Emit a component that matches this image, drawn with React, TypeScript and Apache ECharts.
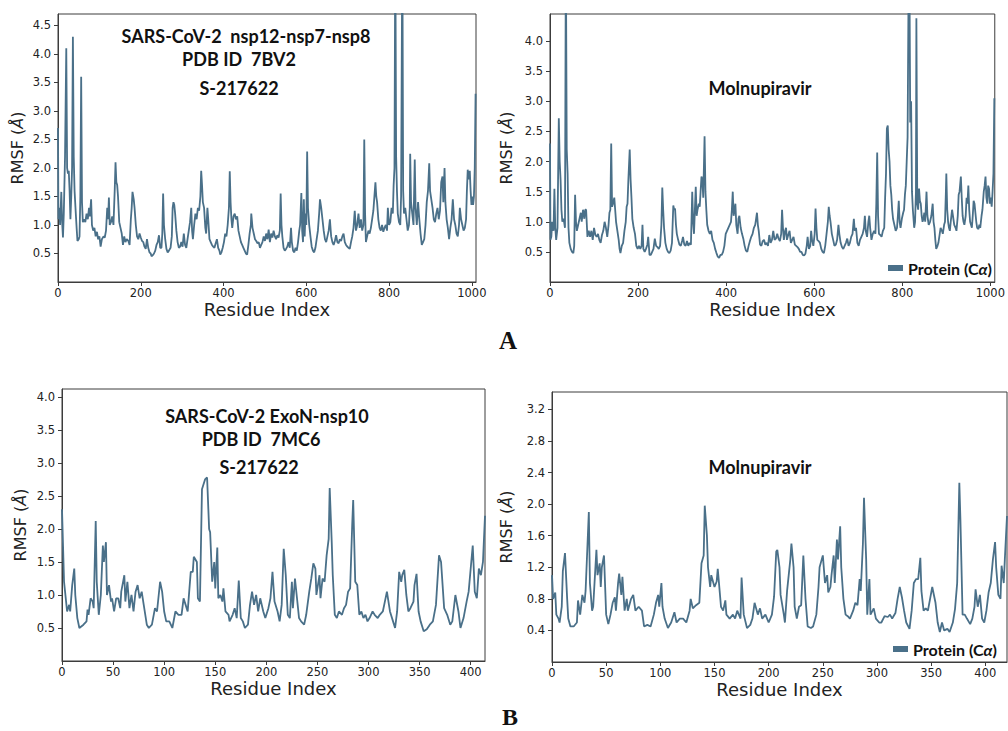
import React, { useEffect, useRef } from 'react';
import * as echarts from 'echarts';

// Panel A-left: SARS-CoV-2 nsp12-nsp7-nsp8 (7BV2) with S-217622  [residue, RMSF]
const rmsf7BV2S217622: number[][] = [
  [0,2.7],[1,1.1],[3,1.3],[5,1.0],[8,1.58],[10,1.05],[12,0.78],[14,1.2],[17,2.2],[20,4.1],[22,2.0],[24,1.9],[26,1.95],[28,1.6],[30,1.1],[32,1.5],[34,2.0],[36,4.3],[38,2.2],[40,1.6],[43,1.2],[45,0.95],[47,0.72],[50,0.75],[52,0.8],[54,1.5],[56,3.6],[58,1.4],[60,1.05],[63,1.1],[66,1.05],[69,1.2],[72,1.1],[75,1.3],[77,1.15],[80,1.45],[82,1.0],[85,0.9],[88,0.95],[91,0.8],[94,0.88],[97,0.75],[100,0.8],[103,0.62],[106,0.75],[110,0.8],[113,0.78],[116,0.9],[119,1.3],[121,1.1],[123,1.48],[125,1.0],[128,1.05],[131,1.15],[134,1.0],[137,1.6],[139,2.1],[141,1.75],[143,1.7],[145,1.5],[148,1.05],[151,0.95],[154,0.85],[157,0.65],[160,0.8],[163,0.7],[166,0.75],[170,0.72],[173,0.65],[176,1.1],[178,1.3],[180,1.58],[183,1.45],[185,1.3],[188,1.0],[191,0.8],[194,0.75],[197,0.85],[200,0.78],[203,0.72],[206,0.7],[209,0.62],[212,0.58],[215,0.75],[218,0.6],[221,0.52],[224,0.5],[226,0.45],[229,0.47],[232,0.5],[235,0.55],[238,0.65],[241,0.7],[244,0.82],[247,0.6],[250,0.6],[252,0.85],[254,1.55],[256,1.0],[259,0.75],[262,0.58],[265,0.52],[268,0.55],[272,0.6],[275,0.8],[277,1.3],[279,1.4],[281,1.35],[283,1.2],[286,0.9],[289,0.7],[292,0.6],[295,0.62],[298,0.7],[301,0.62],[304,0.85],[307,0.65],[310,0.6],[313,0.75],[316,0.9],[319,1.05],[322,1.3],[324,0.9],[326,0.75],[329,1.0],[332,1.2],[335,1.1],[338,1.3],[341,1.25],[344,1.5],[346,1.95],[348,1.7],[350,1.4],[353,1.3],[356,0.95],[358,0.85],[361,1.3],[363,1.1],[366,0.75],[369,0.7],[372,0.65],[375,0.62],[378,0.6],[381,0.68],[384,0.75],[387,0.6],[390,0.55],[392,0.48],[395,0.52],[398,0.6],[401,0.7],[404,0.85],[407,0.8],[410,1.0],[413,1.3],[415,1.94],[417,1.4],[419,1.1],[421,0.95],[424,1.15],[427,1.2],[430,1.1],[433,1.15],[436,0.9],[439,0.8],[442,0.7],[445,0.65],[448,0.6],[451,0.55],[454,0.5],[457,0.48],[460,0.65],[463,0.85],[466,1.0],[467,1.2],[470,0.95],[473,0.85],[476,0.75],[479,0.72],[482,0.68],[485,0.7],[488,0.6],[491,0.65],[494,0.7],[497,0.8],[500,0.72],[503,0.85],[506,0.75],[509,0.92],[512,0.7],[515,0.85],[518,0.78],[521,0.9],[524,0.8],[527,0.75],[530,0.82],[533,0.78],[536,0.9],[538,1.55],[540,1.0],[542,0.8],[545,0.6],[548,0.55],[551,0.58],[554,0.62],[557,0.7],[560,0.6],[563,0.95],[565,0.7],[568,0.55],[571,0.52],[574,0.6],[577,0.55],[580,0.7],[583,0.9],[585,1.0],[588,1.56],[590,0.9],[592,0.7],[594,1.45],[596,0.8],[598,1.2],[600,1.0],[602,2.29],[604,1.3],[607,1.0],[610,0.8],[613,0.62],[616,0.55],[619,0.52],[622,0.6],[625,0.75],[628,0.9],[631,1.2],[633,1.45],[636,1.3],[639,1.1],[642,0.9],[645,0.75],[648,0.7],[651,0.8],[654,0.9],[657,1.1],[660,0.8],[663,0.7],[666,0.65],[669,0.72],[672,0.82],[675,0.7],[678,0.68],[681,0.75],[684,0.72],[687,0.8],[690,0.85],[693,0.7],[696,0.65],[699,0.62],[702,0.6],[705,0.58],[708,0.7],[711,0.8],[714,0.95],[717,1.25],[720,0.9],[723,1.0],[726,1.2],[729,0.95],[732,1.1],[735,0.9],[738,1.0],[740,2.5],[742,1.2],[744,0.7],[747,0.8],[750,0.9],[753,0.85],[756,0.95],[759,1.1],[762,1.25],[765,1.55],[767,1.75],[769,1.5],[771,1.4],[774,1.1],[777,0.95],[780,0.9],[783,1.0],[786,0.88],[789,0.95],[792,1.0],[795,0.9],[797,1.3],[800,1.0],[803,1.05],[806,1.3],[809,1.2],[811,1.7],[813,2.0],[815,6.0],[817,2.2],[819,1.6],[821,1.2],[824,1.05],[827,1.0],[829,1.5],[832,6.0],[834,1.6],[836,1.2],[839,1.3],[842,1.1],[845,0.9],[848,1.0],[850,1.3],[851,2.25],[853,1.4],[856,1.2],[859,1.0],[862,2.15],[864,1.3],[867,1.0],[870,1.4],[873,1.1],[876,0.85],[879,0.65],[882,0.7],[885,0.75],[888,1.0],[891,1.4],[894,1.6],[897,2.08],[899,1.6],[902,1.45],[905,1.3],[908,1.1],[911,1.05],[914,1.2],[917,1.3],[920,1.1],[923,1.25],[926,1.75],[929,1.85],[931,1.4],[934,2.0],[936,1.4],[939,1.1],[942,0.95],[945,0.75],[948,0.95],[951,1.1],[954,1.45],[957,1.1],[960,1.0],[963,0.85],[966,0.8],[969,1.0],[971,1.3],[974,1.1],[977,1.0],[980,0.9],[983,0.95],[986,1.1],[988,1.6],[990,1.97],[992,1.8],[995,1.95],[997,1.6],[999,1.35],[1001,1.5],[1003,1.35],[1005,1.5],[1007,2.0],[1009,3.3]
];

// Panel A-right: 7BV2 with Molnupiravir
const rmsf7BV2Molnupiravir: number[][] = [
  [0,2.3],[1,0.7],[3,0.75],[5,1.0],[8,0.85],[10,1.55],[12,0.9],[14,0.7],[17,0.9],[20,2.72],[22,2.0],[24,1.7],[26,1.2],[28,1.0],[30,1.05],[32,1.0],[34,0.9],[36,5.5],[38,2.2],[40,1.8],[42,0.9],[44,0.65],[47,0.55],[50,0.5],[53,0.48],[55,0.6],[57,1.45],[59,1.0],[61,0.85],[64,0.95],[67,1.05],[70,1.15],[72,1.0],[75,1.2],[78,1.05],[80,1.2],[82,1.2],[85,0.75],[88,0.85],[91,0.75],[94,0.85],[97,0.7],[100,0.9],[103,0.78],[106,0.75],[109,0.8],[112,0.7],[115,0.65],[118,0.78],[121,0.85],[124,1.0],[127,0.9],[130,0.75],[133,0.95],[135,1.15],[137,1.2],[139,2.3],[141,1.25],[143,1.3],[146,1.4],[148,1.2],[150,1.0],[153,0.85],[156,0.7],[158,0.55],[160,0.48],[163,0.6],[166,0.65],[169,0.85],[172,1.0],[174,1.25],[176,1.3],[178,1.7],[181,2.2],[183,1.7],[185,1.4],[187,1.05],[190,0.9],[193,0.8],[196,0.6],[199,0.55],[202,0.6],[205,0.55],[208,0.6],[210,0.95],[212,0.55],[215,0.5],[218,0.55],[221,0.62],[223,0.75],[226,0.45],[229,0.45],[232,0.5],[235,0.55],[238,0.72],[241,0.6],[244,0.58],[247,0.55],[250,0.6],[253,0.95],[255,1.57],[257,1.2],[259,0.9],[262,0.65],[265,0.55],[268,0.5],[271,0.48],[274,0.52],[277,0.65],[280,1.27],[282,1.2],[284,1.22],[286,0.95],[288,0.8],[291,0.7],[294,0.62],[297,0.6],[300,0.68],[302,0.75],[305,0.62],[308,0.6],[311,0.68],[314,0.6],[317,0.65],[320,0.62],[323,1.5],[325,1.0],[327,0.8],[329,1.2],[331,1.58],[333,1.1],[335,1.2],[338,1.3],[340,1.25],[342,1.5],[344,1.75],[346,1.7],[348,1.4],[351,2.42],[353,1.5],[355,1.2],[357,0.95],[360,0.85],[363,0.8],[366,0.85],[369,0.7],[372,0.65],[375,0.55],[378,0.48],[381,0.42],[384,0.4],[387,0.45],[390,0.45],[393,0.5],[396,0.6],[399,0.8],[402,0.85],[405,0.9],[408,0.95],[411,1.0],[413,1.2],[415,1.5],[417,1.1],[419,1.2],[421,1.3],[423,0.95],[426,0.8],[428,1.05],[430,1.1],[433,0.9],[436,0.8],[439,0.72],[442,0.6],[445,0.52],[448,0.5],[451,0.6],[454,0.68],[457,0.75],[460,0.8],[463,0.9],[466,0.95],[468,1.05],[470,1.15],[472,0.95],[474,0.85],[477,0.62],[480,0.6],[483,0.68],[486,0.7],[489,0.62],[492,0.65],[495,0.6],[498,0.78],[501,0.65],[504,0.7],[507,0.85],[510,0.7],[513,0.72],[516,0.8],[519,0.72],[522,0.68],[525,0.8],[527,1.2],[529,0.9],[531,0.7],[534,0.85],[536,0.9],[538,0.7],[541,0.78],[544,0.85],[547,0.65],[550,0.7],[553,0.75],[556,0.62],[559,0.6],[562,0.58],[565,0.55],[568,0.5],[571,0.5],[574,0.45],[577,0.44],[580,0.47],[583,0.6],[585,0.75],[588,0.55],[591,0.6],[593,0.85],[595,0.7],[598,0.6],[601,0.8],[603,1.22],[605,0.9],[607,0.7],[610,0.68],[613,0.65],[616,0.55],[619,0.5],[622,0.48],[625,0.6],[628,0.8],[631,1.0],[633,1.25],[635,1.1],[637,1.0],[640,0.8],[643,0.7],[646,0.6],[649,0.62],[652,0.7],[655,0.95],[657,0.8],[660,0.65],[663,0.58],[666,0.55],[669,0.6],[672,0.65],[675,0.72],[678,0.6],[681,0.65],[684,0.75],[687,0.8],[690,1.05],[692,0.85],[695,0.9],[698,0.65],[701,0.6],[704,0.7],[707,0.75],[710,0.8],[713,0.9],[715,1.1],[717,0.85],[720,0.75],[723,1.0],[725,1.1],[727,0.9],[730,0.7],[733,0.8],[736,0.85],[739,0.8],[741,1.3],[743,2.15],[745,1.1],[747,0.8],[750,0.78],[753,0.75],[756,0.85],[759,0.9],[761,1.4],[763,1.8],[765,2.55],[767,2.6],[769,2.2],[771,2.0],[773,1.6],[775,1.45],[777,1.2],[779,1.05],[782,0.95],[785,0.85],[788,0.9],[790,1.1],[792,1.35],[794,1.0],[796,0.9],[799,1.05],[802,1.15],[804,1.2],[806,1.45],[808,1.6],[810,2.0],[812,2.4],[814,4.6],[816,5.5],[818,2.65],[820,3.0],[822,1.5],[824,1.2],[827,0.9],[829,1.0],[831,1.5],[832,4.38],[834,1.3],[836,1.2],[838,1.55],[840,1.35],[842,1.3],[844,1.1],[846,1.0],[848,1.05],[850,1.15],[852,1.0],[855,1.5],[857,1.1],[860,0.95],[863,1.0],[866,1.1],[869,1.3],[871,1.0],[873,0.9],[875,0.7],[877,0.55],[880,0.6],[882,0.65],[885,0.8],[887,0.9],[890,0.85],[892,0.8],[895,0.95],[897,1.0],[899,1.5],[900,1.8],[902,1.2],[904,1.0],[906,0.9],[908,0.85],[910,1.0],[913,1.2],[915,1.1],[918,0.95],[921,0.9],[923,0.85],[926,1.1],[928,1.45],[930,1.5],[933,1.75],[935,1.4],[937,1.1],[939,1.0],[941,0.95],[944,1.1],[946,1.4],[948,1.3],[950,1.6],[952,1.2],[954,1.0],[956,0.95],[958,0.9],[960,1.1],[962,1.35],[964,1.3],[966,1.15],[968,1.0],[970,0.9],[973,0.88],[975,0.95],[977,0.9],[980,1.1],[982,1.2],[985,1.5],[987,1.6],[989,1.75],[991,1.4],[993,1.3],[995,1.6],[997,1.55],[999,1.3],[1001,1.4],[1003,1.25],[1005,1.5],[1007,1.8],[1009,3.05]
];

// Panel B-left: SARS-CoV-2 ExoN-nsp10 (7MC6) with S-217622
const rmsf7MC6S217622: number[][] = [
  [0,2.3],[2,1.2],[3,1.05],[5,0.75],[7,0.85],[8,0.75],[10,1.15],[12,1.4],[13,1.0],[15,0.65],[17,0.5],[21,0.55],[24,0.6],[25,0.78],[26,0.7],[28,0.95],[30,0.9],[31,0.8],[33,2.12],[34,1.2],[36,0.7],[38,1.0],[40,1.75],[41,1.5],[43,1.8],[44,1.0],[46,1.15],[48,0.9],[49,0.95],[51,0.75],[53,0.95],[55,0.95],[57,0.8],[58,1.05],[61,1.3],[62,0.9],[64,1.2],[66,0.8],[68,1.0],[70,0.75],[72,1.05],[74,1.15],[76,0.95],[78,1.05],[80,0.85],[83,0.55],[85,0.5],[88,0.55],[91,0.8],[93,0.75],[96,1.2],[98,1.05],[100,0.75],[102,0.6],[105,0.6],[108,0.5],[111,0.75],[114,0.7],[117,0.7],[119,0.95],[121,0.85],[123,0.75],[126,1.35],[128,1.35],[129,1.58],[132,1.5],[133,0.95],[135,0.9],[137,2.6],[140,2.75],[142,2.78],[144,2.0],[145,1.95],[147,1.2],[149,1.5],[150,1.1],[152,1.72],[153,0.95],[155,1.0],[157,0.9],[158,1.1],[160,0.75],[163,0.7],[164,0.6],[167,0.7],[169,0.8],[171,0.65],[173,1.22],[175,0.65],[177,0.6],[179,0.5],[182,0.55],[184,0.85],[186,1.05],[188,0.85],[190,1.0],[192,0.75],[194,0.95],[197,0.75],[199,0.65],[202,0.8],[204,0.95],[206,1.35],[208,0.9],[211,0.75],[213,0.6],[215,0.85],[217,1.7],[219,1.3],[221,0.7],[223,0.65],[225,1.2],[226,0.8],[228,1.25],[230,0.95],[232,0.65],[234,0.6],[237,0.55],[239,0.7],[242,1.05],[244,1.25],[246,1.48],[248,1.4],[249,1.0],[252,1.3],[253,0.95],[255,1.25],[257,1.2],[259,1.6],[261,1.85],[262,2.62],[264,1.8],[265,1.3],[267,0.7],[269,0.65],[271,0.75],[274,0.7],[276,0.8],[278,0.85],[280,1.05],[282,1.1],[284,2.05],[285,2.44],[287,1.2],[289,1.15],[291,0.7],[293,0.75],[295,0.65],[297,0.7],[299,0.6],[301,0.65],[304,0.75],[306,0.7],[309,0.65],[311,0.7],[314,0.75],[316,0.9],[318,1.05],[321,0.75],[324,0.6],[326,0.5],[328,0.75],[330,1.35],[332,1.2],[333,1.3],[335,1.38],[337,1.0],[339,0.75],[341,0.8],[344,0.9],[345,1.15],[347,1.32],[349,0.75],[351,0.6],[354,0.45],[357,0.48],[360,0.55],[363,0.6],[366,0.85],[369,1.6],[371,1.5],[374,0.8],[377,0.7],[380,0.55],[382,0.6],[385,1.0],[388,0.75],[390,0.5],[393,0.65],[396,0.9],[398,1.05],[402,1.75],[404,1.05],[406,0.95],[408,1.4],[410,1.3],[412,1.5],[414,2.2]
];

// Panel B-right: 7MC6 with Molnupiravir
const rmsf7MC6Molnupiravir: number[][] = [
  [0,1.1],[1,0.8],[3,0.88],[4,0.6],[6,0.55],[7,0.5],[9,0.7],[10,1.15],[12,1.38],[14,0.8],[15,0.55],[17,0.45],[20,0.45],[23,0.5],[24,0.78],[26,0.6],[28,0.85],[30,0.75],[31,0.9],[34,1.9],[35,1.0],[37,0.65],[38,0.7],[41,1.42],[42,1.1],[44,1.25],[45,0.95],[46,1.2],[48,1.35],[50,0.6],[52,0.48],[54,0.6],[56,0.75],[58,0.82],[59,0.65],[61,1.0],[62,1.12],[64,0.85],[65,1.08],[67,0.65],[69,0.8],[70,0.65],[73,0.8],[75,0.85],[77,0.65],[80,0.7],[83,0.65],[85,0.45],[88,0.47],[91,0.45],[94,0.6],[96,0.75],[98,0.85],[99,0.7],[101,1.0],[102,0.7],[104,0.55],[107,0.43],[110,0.5],[113,0.63],[115,0.5],[118,0.55],[121,0.55],[124,0.5],[127,0.65],[128,0.8],[130,0.68],[133,0.72],[136,0.75],[138,1.25],[140,1.35],[141,1.98],[143,1.6],[144,1.2],[146,0.95],[147,1.1],[150,0.95],[152,1.02],[153,1.18],[156,0.7],[158,0.65],[160,0.78],[161,0.6],[164,0.55],[167,0.6],[169,0.55],[171,0.65],[174,0.55],[175,1.07],[177,0.6],[180,0.43],[183,0.47],[185,0.55],[187,0.75],[190,0.6],[192,0.68],[194,0.55],[197,0.6],[200,0.5],[203,0.6],[205,0.83],[207,1.4],[208,1.42],[210,1.2],[211,0.85],[214,0.6],[215,0.5],[217,0.9],[220,1.3],[221,1.5],[223,1.2],[224,0.7],[226,0.55],[228,0.7],[230,0.72],[232,1.35],[234,0.8],[236,0.45],[239,0.43],[241,0.45],[244,0.6],[246,0.95],[247,1.2],[249,1.3],[250,1.35],[252,1.0],[254,1.1],[255,0.88],[257,0.95],[258,1.1],[260,1.35],[261,1.0],[263,1.55],[264,1.3],[266,1.72],[267,1.2],[269,0.8],[271,0.6],[273,0.58],[275,0.55],[278,0.65],[280,0.75],[282,0.72],[284,1.05],[285,0.9],[287,1.5],[288,2.08],[290,1.3],[291,0.6],[293,1.05],[294,0.6],[297,0.68],[299,0.55],[302,0.5],[304,0.5],[307,0.58],[310,0.57],[312,0.6],[314,0.55],[317,0.62],[319,0.8],[321,0.95],[323,0.82],[325,0.65],[327,0.5],[330,0.42],[332,0.65],[334,1.0],[336,1.05],[338,1.05],[340,1.32],[341,0.9],[343,0.65],[345,0.68],[347,0.65],[349,0.8],[351,0.95],[354,0.75],[356,0.5],[358,0.38],[360,0.5],[362,0.4],[365,0.42],[367,0.38],[370,0.5],[372,0.67],[374,1.0],[376,2.27],[377,1.8],[379,0.6],[381,0.6],[383,0.55],[386,0.48],[388,0.55],[390,0.7],[391,0.92],[393,0.7],[395,0.85],[397,0.55],[399,0.5],[401,0.65],[403,0.88],[405,1.0],[407,1.3],[409,1.52],[410,1.2],[412,0.85],[414,0.8],[415,1.22],[417,1.0],[418,1.3],[420,1.85]
];

const xTicksA = [0, 200, 400, 600, 800, 1000];
const xTicksB = [0, 50, 100, 150, 200, 250, 300, 350, 400];
const yTicksAL = [0.5, 1.0, 1.5, 2.0, 2.5, 3.0, 3.5, 4.0, 4.5];
const yTicksAR = [0.5, 1.0, 1.5, 2.0, 2.5, 3.0, 3.5, 4.0];
const yTicksBL = [0.5, 1.0, 1.5, 2.0, 2.5, 3.0, 3.5, 4.0];
const yTicksBR = [0.4, 0.8, 1.2, 1.6, 2.0, 2.4, 2.8, 3.2];

const LINE = '#4a7089';
const AXIS = '#3c3c3c';
const LEGEND_NAME = 'Protein (Cα)';

function xAxis(gridIndex: number, max: number, ticks: number[]) {
  return {
    type: 'value', gridIndex, min: 0, max,
    name: 'Residue Index', nameLocation: 'middle', nameGap: 18,
    nameTextStyle: { fontFamily: 'DejaVu Sans', fontSize: 18, color: '#222' },
    axisLine: { show: true, lineStyle: { color: AXIS, width: 1 } },
    axisTick: { show: true, length: 4, lineStyle: { color: AXIS }, customValues: ticks },
    axisLabel: { fontFamily: 'DejaVu Sans', fontSize: 11.5, color: '#222', margin: 5, customValues: ticks, formatter: (v: number) => String(v) },
    splitLine: { show: false },
  };
}

function yAxis(gridIndex: number, max: number, ticks: number[], gap: number) {
  return {
    type: 'value', gridIndex, min: 0, max,
    name: '{a|RMSF (}{b|Å}{a|)}', nameLocation: 'middle', nameGap: gap, nameRotate: 90,
    nameTextStyle: {
      fontFamily: 'DejaVu Sans', fontSize: 16, color: '#222',
      rich: {
        a: { fontFamily: 'DejaVu Sans', fontSize: 16, color: '#222' },
        b: { fontFamily: 'DejaVu Sans', fontSize: 16, color: '#222', fontStyle: 'italic' },
      },
    },
    axisLine: { show: true, lineStyle: { color: AXIS, width: 1 } },
    axisTick: { show: true, length: 4, lineStyle: { color: AXIS }, customValues: ticks },
    axisLabel: { fontFamily: 'DejaVu Sans', fontSize: 11.5, color: '#222', margin: 7, customValues: ticks, formatter: (v: number) => v.toFixed(1) },
    splitLine: { show: false },
  };
}

function lineSeries(name: string, idx: number, data: number[][]) {
  return {
    name, type: 'line', xAxisIndex: idx, yAxisIndex: idx, data,
    showSymbol: false, symbol: 'none', clip: true,
    lineStyle: { color: LINE, width: 1.8 },
    itemStyle: { color: LINE },
  };
}

function titleText(x: number, y: number, text: string, size = 18) {
  return {
    type: 'text', x, y, silent: true,
    style: { text, fill: '#111', font: `bold ${size}px Lato`, textAlign: 'center', textVerticalAlign: 'middle' },
  };
}

function legendAt(left: number, top: number) {
  return {
    show: true, left, top, padding: 0, icon: 'rect', itemWidth: 15, itemHeight: 6,
    data: [LEGEND_NAME], selectedMode: false,
    formatter: () => '{b|Protein (C}{i|α}{b|)}',
    textStyle: {
      lineHeight: 18,
      rich: {
        b: { fontFamily: 'Lato', fontWeight: 'bold', fontSize: 16, color: '#111' },
        i: { fontFamily: 'Lato', fontWeight: 'bold', fontStyle: 'italic', fontSize: 16, color: '#111' },
      },
    },
  };
}

export default function App() {
  const ref = useRef<HTMLDivElement>(null);
  useEffect(() => {
    if (!ref.current) return;
    const chart = echarts.init(ref.current, undefined, { renderer: 'svg' });
    const gridBase = { show: true, borderColor: AXIS, borderWidth: 1, backgroundColor: 'transparent', containLabel: false };
    chart.setOption({
      animation: false,
      backgroundColor: '#fff',
      grid: [
        { ...gridBase, left: 58, top: 14, width: 418, height: 268 },
        { ...gridBase, left: 550, top: 14, width: 447, height: 268 },
        { ...gridBase, left: 62, top: 389, width: 423, height: 272 },
        { ...gridBase, left: 552, top: 392, width: 455, height: 270 },
      ],
      xAxis: [
        xAxis(0, 1010, xTicksA),
        xAxis(1, 1010, xTicksA),
        xAxis(2, 414, xTicksB),
        xAxis(3, 420, xTicksB),
      ],
      yAxis: [
        yAxis(0, 4.7, yTicksAL, 33),
        yAxis(1, 4.45, yTicksAR, 36),
        yAxis(2, 4.12, yTicksBL, 34),
        yAxis(3, 3.42, yTicksBR, 38),
      ],
      legend: [legendAt(888, 259), legendAt(893, 640)],
      series: [
        lineSeries('S-217622 (7BV2)', 0, rmsf7BV2S217622),
        lineSeries(LEGEND_NAME, 1, rmsf7BV2Molnupiravir),
        lineSeries('S-217622 (7MC6)', 2, rmsf7MC6S217622),
        lineSeries(LEGEND_NAME, 3, rmsf7MC6Molnupiravir),
      ],
      graphic: [
        titleText(246, 36, 'SARS-CoV-2  nsp12-nsp7-nsp8'),
        titleText(239, 59, 'PDB ID  7BV2'),
        titleText(239, 88, 'S-217622'),
        titleText(760, 88, 'Molnupiravir'),
        titleText(267, 416, 'SARS-CoV-2 ExoN-nsp10'),
        titleText(261, 439, 'PDB ID  7MC6'),
        titleText(259, 467, 'S-217622'),
        titleText(760, 467, 'Molnupiravir'),
        {
          type: 'text', x: 508, y: 340, silent: true,
          style: { text: 'A', fill: '#111', font: 'bold 25px "Liberation Serif"', textAlign: 'center', textVerticalAlign: 'middle' },
        },
        {
          type: 'text', x: 510, y: 717, silent: true,
          style: { text: 'B', fill: '#111', font: 'bold 24px "Liberation Serif"', textAlign: 'center', textVerticalAlign: 'middle' },
        },
      ],
    });
    return () => chart.dispose();
  }, []);
  return (
    <div
      ref={ref}
      style={{ position: 'absolute', left: 0, top: 0, width: 1008, height: 731, background: '#fff' }}
    />
  );
}
